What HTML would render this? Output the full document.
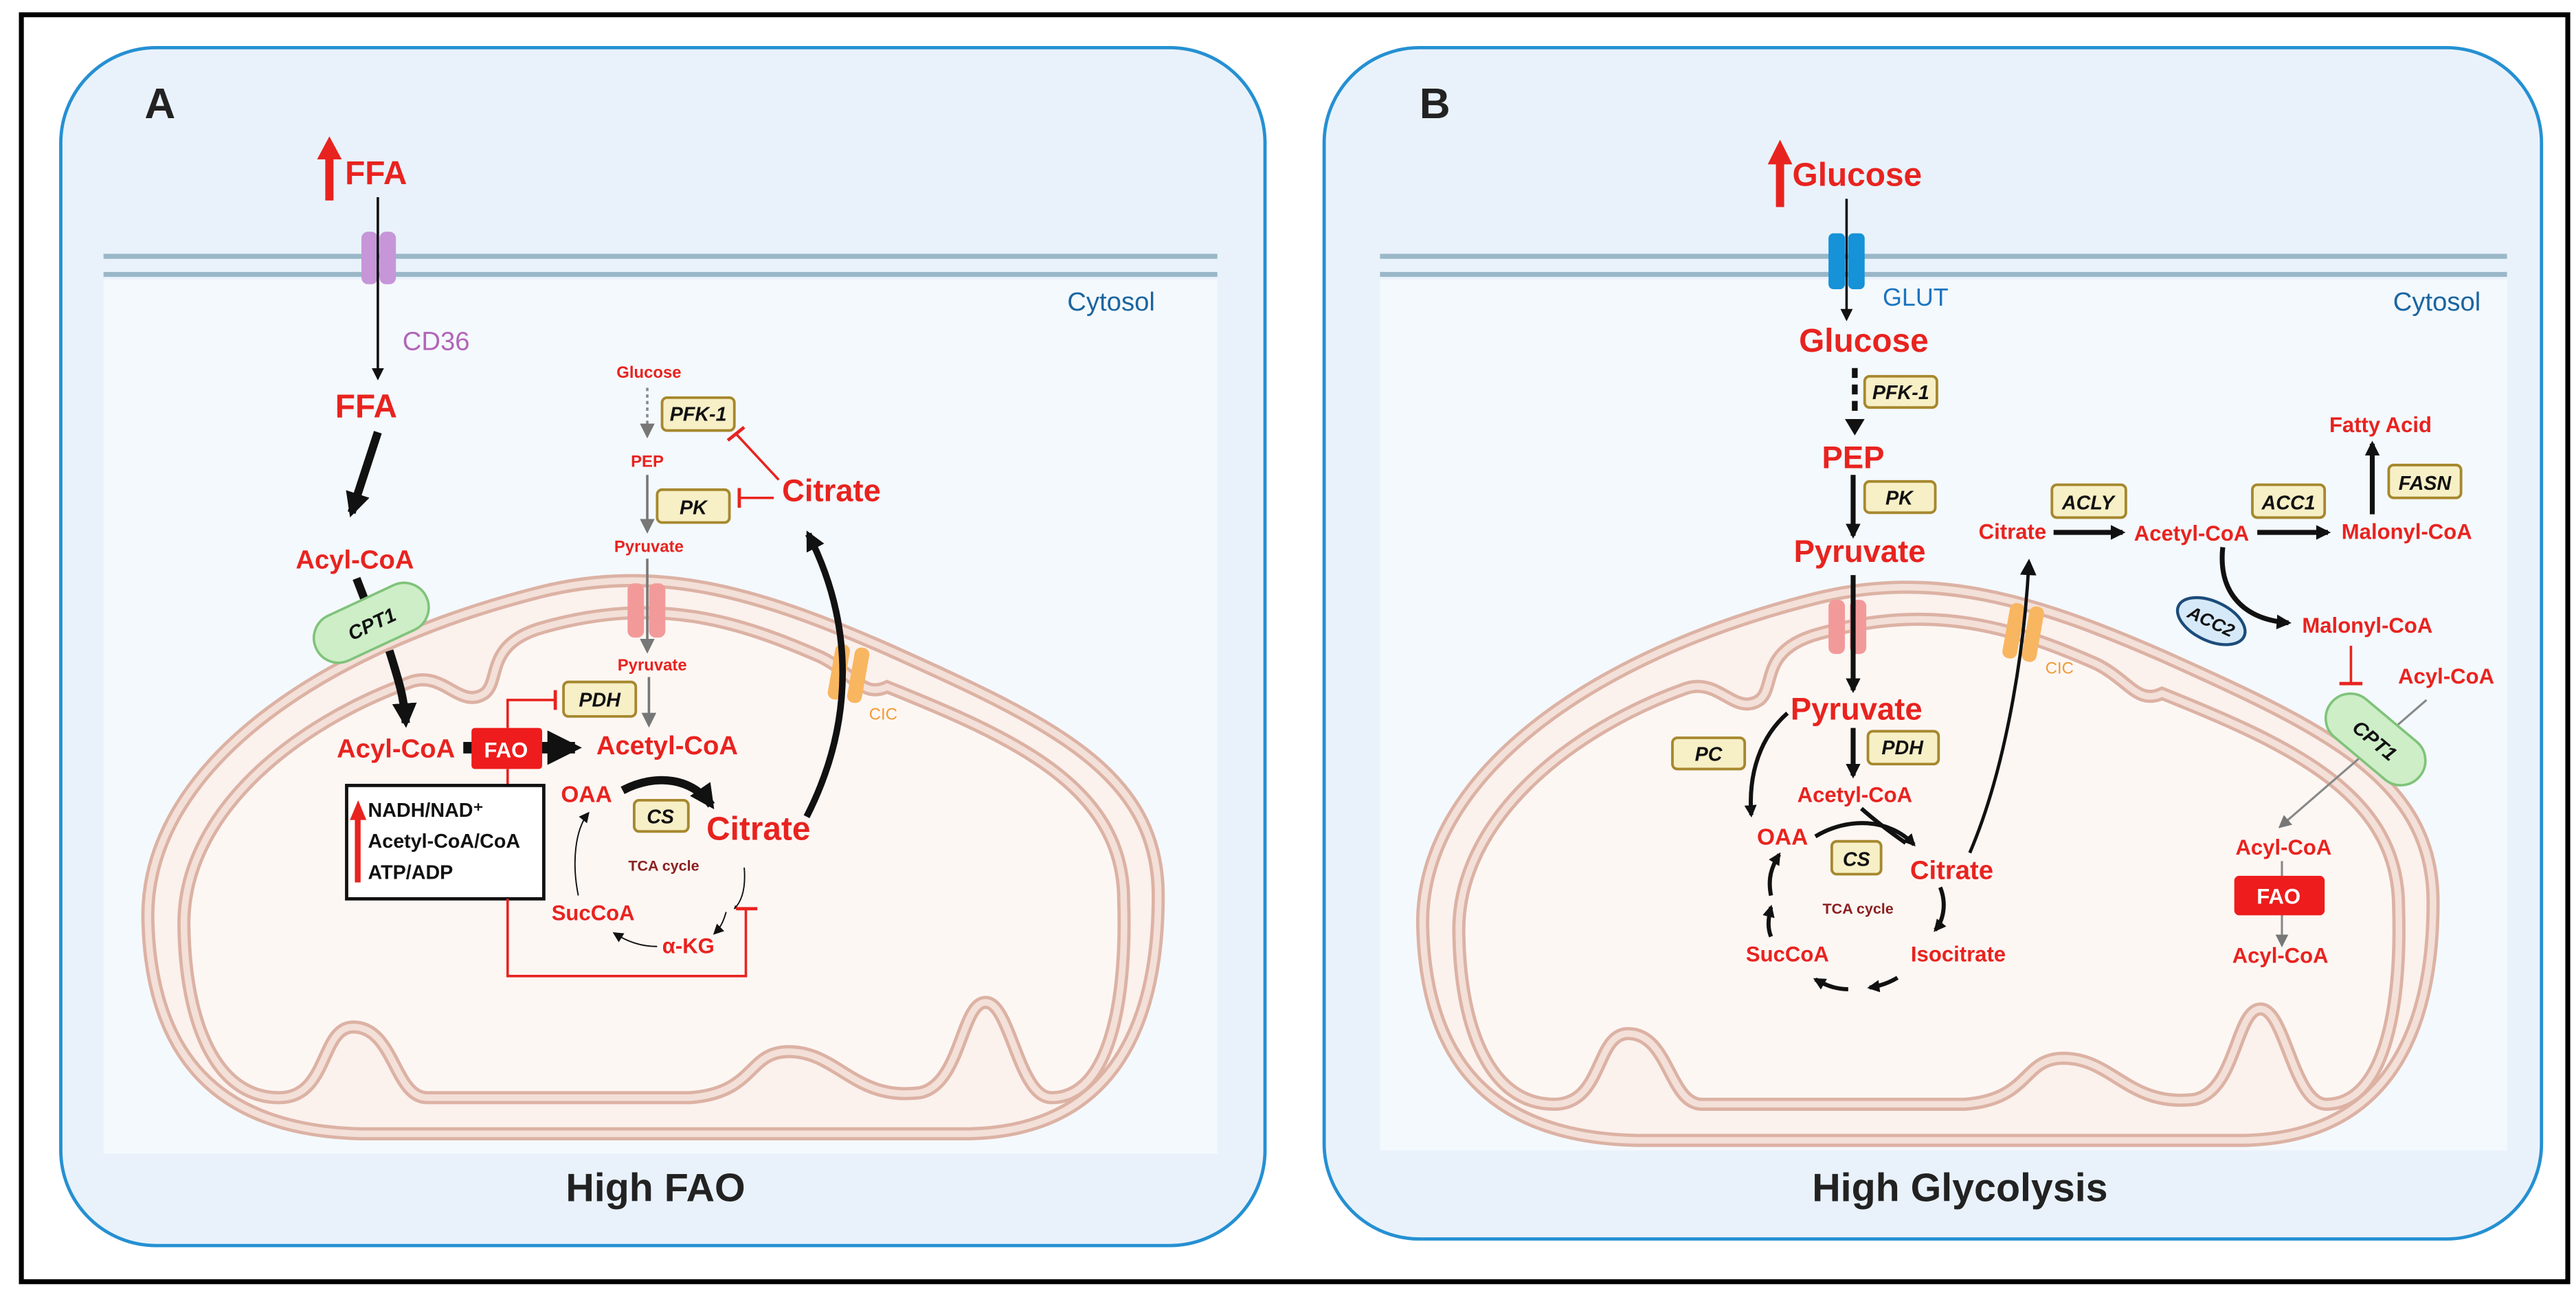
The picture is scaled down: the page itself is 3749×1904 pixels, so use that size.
<!DOCTYPE html>
<html><head><meta charset="utf-8"><style>
html,body{margin:0;padding:0;background:#fff}
svg{display:block}
text{font-family:"Liberation Sans",sans-serif;font-weight:bold}
.r{fill:#e8231f}
.enz{fill:#f7efc6;stroke:#a6882e;stroke-width:1.6}
.et{font-style:italic;font-size:12px;fill:#111;text-anchor:middle}
</style></head><body>
<svg width="3749" height="1904" viewBox="0 0 1568 796" preserveAspectRatio="none" xmlns="http://www.w3.org/2000/svg">
<defs>
<marker id="ab" viewBox="0 0 10 10" refX="8" refY="5" markerWidth="5" markerHeight="5" orient="auto"><path d="M0,0L10,5L0,10Z" fill="#111"/></marker>
<marker id="abs" viewBox="0 0 10 10" refX="8" refY="5" markerWidth="3" markerHeight="3" orient="auto"><path d="M0,0L10,5L0,10Z" fill="#111"/></marker>
<marker id="at" viewBox="0 0 10 10" refX="8" refY="5" markerWidth="8" markerHeight="8" orient="auto"><path d="M0,0L10,5L0,10Z" fill="#111"/></marker>
<marker id="ag" viewBox="0 0 10 10" refX="8" refY="5" markerWidth="6" markerHeight="6" orient="auto"><path d="M0,0L10,5L0,10Z" fill="#777"/></marker>
<g id="mito">
<path id="outer" d="M90,560 C88,470 190,395 330,360 C400,343 460,360 540,395 C640,440 705,470 705,545 C705,620 680,688 590,690 L220,690 C130,688 92,640 90,560 Z" fill="#fbf1ed" stroke="#dcb2a4" stroke-width="8"/>
<path d="M90,560 C88,470 190,395 330,360 C400,343 460,360 540,395 C640,440 705,470 705,545 C705,620 680,688 590,690 L220,690 C130,688 92,640 90,560 Z" fill="none" stroke="#f3e0d8" stroke-width="4"/>
<path d="M112,565 C110,495 180,440 250,415 C270,408 280,432 295,422 C305,414 295,392 330,382 C400,362 450,378 500,400 C520,410 525,425 540,418 C620,450 684,480 684,548 C686,610 675,668 640,668 C620,668 615,610 600,610 C585,610 585,660 560,665 C520,670 510,640 480,640 C455,640 460,665 420,668 L260,668 C240,668 240,625 215,625 C195,625 200,668 170,668 C130,668 113,620 112,565 Z" fill="#fdf7f4" stroke="#dcb2a4" stroke-width="8"/>
<path d="M112,565 C110,495 180,440 250,415 C270,408 280,432 295,422 C305,414 295,392 330,382 C400,362 450,378 500,400 C520,410 525,425 540,418 C620,450 684,480 684,548 C686,610 675,668 640,668 C620,668 615,610 600,610 C585,610 585,660 560,665 C520,670 510,640 480,640 C455,640 460,665 420,668 L260,668 C240,668 240,625 215,625 C195,625 200,668 170,668 C130,668 113,620 112,565 Z" fill="none" stroke="#f3e0d8" stroke-width="4"/>
</g>
</defs>
<rect x="13" y="9" width="1550" height="771" fill="#fff" stroke="#000" stroke-width="3"/>

<!-- Panel A -->
<rect x="37" y="29" width="733" height="729" rx="58" fill="#e9f2fb" stroke="#2590d2" stroke-width="2"/>
<rect x="63" y="170" width="678" height="532" fill="#f4f9fd"/>
<line x1="63" y1="156" x2="741" y2="156" stroke="#9ab7c8" stroke-width="3"/>
<line x1="63" y1="167" x2="741" y2="167" stroke="#9ab7c8" stroke-width="3"/>
<text x="88" y="72" font-size="26" fill="#222">A</text>
<text x="703" y="189" font-size="16" fill="#1b65a0" text-anchor="end" style="font-weight:normal">Cytosol</text>
<use href="#mito"/>
<!-- FFA -->
<rect x="198" y="95" width="5" height="27" fill="#e8231f"/><path d="M193,97 L200.5,83 L208,97Z" fill="#e8231f"/>
<text x="210" y="112" font-size="20" class="r">FFA</text>
<rect x="220" y="141" width="10" height="32" rx="4" fill="#c696d8"/><rect x="231" y="141" width="10" height="32" rx="4" fill="#c696d8"/>
<line x1="230" y1="120" x2="230" y2="230" stroke="#111" stroke-width="1.5" marker-end="url(#ab)"/>
<text x="245" y="213" font-size="16" fill="#b265b8" style="font-weight:normal">CD36</text>
<text x="204" y="254" font-size="20" class="r">FFA</text>
<line x1="230" y1="263" x2="214" y2="312" stroke="#111" stroke-width="5" marker-end="url(#abs)"/>
<text x="180" y="346" font-size="16" class="r">Acyl-CoA</text>
<line x1="217" y1="352" x2="222" y2="365" stroke="#111" stroke-width="5"/>
<g transform="translate(226,379) rotate(-25)"><rect x="-37" y="-15" width="74" height="30" rx="15" fill="#cdeec7" stroke="#7fc37a" stroke-width="1.5"/><text x="0" y="5" font-size="12" text-anchor="middle" fill="#111" font-style="italic">CPT1</text></g>
<path d="M237,396 C243,415 246,425 247,440" fill="none" stroke="#111" stroke-width="5" marker-end="url(#abs)"/>
<text x="205" y="461" font-size="16" class="r">Acyl-CoA</text>
<line x1="282" y1="455" x2="350" y2="455" stroke="#111" stroke-width="7" marker-end="url(#abs)"/>
<rect x="287" y="443" width="43" height="25" rx="2" fill="#ee1c1c"/>
<text x="308" y="461" font-size="13" fill="#fff" text-anchor="middle">FAO</text>
<text x="363" y="459" font-size="16" class="r">Acetyl-CoA</text>
<polyline points="309,443 309,426 338,426" fill="none" stroke="#e8231f" stroke-width="1.5"/><line x1="338" y1="420" x2="338" y2="432" stroke="#e8231f" stroke-width="2"/>
<rect x="343" y="415" width="44" height="21" rx="3" class="enz"/><text x="365" y="430" class="et">PDH</text>
<text x="395" y="230" font-size="10" class="r" text-anchor="middle">Glucose</text>
<line x1="394" y1="236" x2="394" y2="265" stroke="#888" stroke-width="1.5" stroke-dasharray="2,2" marker-end="url(#ag)"/>
<text x="394" y="284" font-size="10" class="r" text-anchor="middle">PEP</text>
<line x1="394" y1="289" x2="394" y2="323" stroke="#777" stroke-width="1.5" marker-end="url(#ag)"/>
<text x="395" y="336" font-size="10" class="r" text-anchor="middle">Pyruvate</text>
<rect x="382" y="355" width="10" height="33" rx="4" fill="#f29a9a"/><rect x="395" y="355" width="10" height="33" rx="4" fill="#f29a9a"/>
<line x1="394" y1="340" x2="394" y2="396" stroke="#777" stroke-width="1.5" marker-end="url(#ag)"/>
<text x="397" y="408" font-size="10" class="r" text-anchor="middle">Pyruvate</text>
<line x1="395" y1="412" x2="395" y2="441" stroke="#777" stroke-width="1.5" marker-end="url(#ag)"/>
<rect x="403" y="242" width="44" height="20" rx="3" class="enz"/><text x="425" y="256" class="et">PFK-1</text>
<rect x="400" y="298" width="44" height="20" rx="3" class="enz"/><text x="422" y="313" class="et">PK</text>
<line x1="474" y1="292" x2="448" y2="264" stroke="#e8231f" stroke-width="1.5"/><line x1="443" y1="268" x2="453" y2="260" stroke="#e8231f" stroke-width="2"/>
<line x1="471" y1="303" x2="450" y2="303" stroke="#e8231f" stroke-width="1.5"/><line x1="450" y1="297" x2="450" y2="309" stroke="#e8231f" stroke-width="2"/>
<text x="476" y="305" font-size="19" class="r">Citrate</text>
<g transform="translate(517,410) rotate(10)"><rect x="-11" y="-17" width="9" height="34" rx="4" fill="#f9b660"/><rect x="1" y="-17" width="9" height="34" rx="4" fill="#f9b660"/></g>
<text x="529" y="438" font-size="10" fill="#f39a35" style="font-weight:normal">CIC</text>
<path d="M491,497 C520,440 520,380 492,325" fill="none" stroke="#111" stroke-width="4" marker-end="url(#abs)"/>
<text x="357" y="488" font-size="14" class="r" text-anchor="middle">OAA</text>
<path d="M379,481 C400,470 422,474 433,490" fill="none" stroke="#111" stroke-width="5" marker-end="url(#abs)"/>
<rect x="386" y="487" width="33" height="19" rx="3" class="enz"/><text x="402" y="501" class="et">CS</text>
<text x="430" y="511" font-size="20" class="r">Citrate</text>
<text x="404" y="530" font-size="9" fill="#8a2020" text-anchor="middle">TCA cycle</text>
<text x="361" y="560" font-size="13" class="r" text-anchor="middle">SucCoA</text>
<text x="419" y="580" font-size="13" class="r" text-anchor="middle">α-KG</text>
<path d="M453,528 C454,540 452,548 447,553" fill="none" stroke="#111" stroke-width="0.8" marker-end="url(#abs)"/>
<path d="M442,555 C440,562 438,565 435,568" fill="none" stroke="#111" stroke-width="0.8" marker-end="url(#at)"/>
<path d="M400,576 C390,576 382,573 374,568" fill="none" stroke="#111" stroke-width="0.8" marker-end="url(#at)"/>
<path d="M352,545 C348,525 350,505 358,495" fill="none" stroke="#111" stroke-width="0.8" marker-end="url(#at)"/>
<line x1="309" y1="468" x2="309" y2="478" stroke="#e8231f" stroke-width="1.5"/>
<rect x="211" y="478" width="120" height="69" fill="#fff" stroke="#111" stroke-width="2"/>
<rect x="216" y="496" width="3.5" height="41" fill="#e8231f"/><path d="M213,499 L218,487 L223,499Z" fill="#e8231f"/>
<text x="224" y="497" font-size="12" fill="#111">NADH/NAD⁺</text>
<text x="224" y="516" font-size="12" fill="#111">Acetyl-CoA/CoA</text>
<text x="224" y="535" font-size="12" fill="#111">ATP/ADP</text>
<polyline points="309,547 309,594 454,594 454,553" fill="none" stroke="#e8231f" stroke-width="1.5"/><line x1="448" y1="553" x2="461" y2="553" stroke="#e8231f" stroke-width="2"/>
<text x="399" y="731" font-size="24" fill="#222" text-anchor="middle">High  FAO</text>

<!-- Panel B -->
<rect x="806" y="29" width="741" height="725" rx="58" fill="#e9f2fb" stroke="#2590d2" stroke-width="2"/>
<rect x="840" y="170" width="686" height="530" fill="#f4f9fd"/>
<line x1="840" y1="156" x2="1526" y2="156" stroke="#9ab7c8" stroke-width="3"/>
<line x1="840" y1="167" x2="1526" y2="167" stroke="#9ab7c8" stroke-width="3"/>
<text x="864" y="72" font-size="26" fill="#222">B</text>
<text x="1510" y="189" font-size="16" fill="#1b65a0" text-anchor="end" style="font-weight:normal">Cytosol</text>
<use href="#mito" transform="translate(776,4)"/>
<rect x="1081" y="98" width="5" height="28" fill="#e8231f"/><path d="M1076,100 L1083.5,85 L1091,100Z" fill="#e8231f"/>
<text x="1091" y="113" font-size="20" class="r">Glucose</text>
<rect x="1113" y="142" width="10" height="34" rx="3" fill="#1592d8"/><rect x="1125" y="142" width="10" height="34" rx="3" fill="#1592d8"/>
<line x1="1124" y1="121" x2="1124" y2="194" stroke="#111" stroke-width="1.5" marker-end="url(#ab)"/>
<text x="1146" y="186" font-size="15" fill="#1b74c0" style="font-weight:normal">GLUT</text>
<text x="1095" y="214" font-size="20" class="r">Glucose</text>
<line x1="1129" y1="224" x2="1129" y2="250" stroke="#111" stroke-width="3.5" stroke-dasharray="6,4"/>
<path d="M1123,255 L1135,255 L1129,265Z" fill="#111"/>
<rect x="1135" y="229" width="44" height="19" rx="3" class="enz"/><text x="1157" y="243" class="et">PFK-1</text>
<text x="1128" y="285" font-size="19" class="r" text-anchor="middle">PEP</text>
<line x1="1128" y1="289" x2="1128" y2="326" stroke="#111" stroke-width="3" marker-end="url(#abs)"/>
<rect x="1135" y="293" width="43" height="19" rx="3" class="enz"/><text x="1156" y="307" class="et">PK</text>
<text x="1132" y="342" font-size="19" class="r" text-anchor="middle">Pyruvate</text>
<rect x="1113" y="365" width="10" height="33" rx="4" fill="#f29a9a"/><rect x="1126" y="365" width="10" height="33" rx="4" fill="#f29a9a"/>
<line x1="1128" y1="350" x2="1128" y2="420" stroke="#111" stroke-width="3" marker-end="url(#abs)"/>
<text x="1130" y="438" font-size="19" class="r" text-anchor="middle">Pyruvate</text>
<line x1="1128" y1="443" x2="1128" y2="472" stroke="#111" stroke-width="3" marker-end="url(#abs)"/>
<rect x="1137" y="445" width="43" height="20" rx="3" class="enz"/><text x="1158" y="459" class="et">PDH</text>
<rect x="1018" y="449" width="44" height="19" rx="3" class="enz"/><text x="1040" y="463" class="et">PC</text>
<path d="M1088,434 C1072,448 1064,470 1066,496" fill="none" stroke="#111" stroke-width="2.5" marker-end="url(#abs)"/>
<text x="1129" y="488" font-size="13" class="r" text-anchor="middle">Acetyl-CoA</text>
<text x="1085" y="514" font-size="14" class="r" text-anchor="middle">OAA</text>
<path d="M1105,509 C1125,497 1150,498 1165,514" fill="none" stroke="#111" stroke-width="2.5" marker-end="url(#abs)"/>
<path d="M1133,492 C1142,500 1150,506 1160,513" fill="none" stroke="#111" stroke-width="2.5"/>
<rect x="1115" y="512" width="30" height="20" rx="3" class="enz"/><text x="1130" y="527" class="et">CS</text>
<text x="1188" y="535" font-size="16" class="r" text-anchor="middle">Citrate</text>
<text x="1131" y="556" font-size="9" fill="#8a2020" text-anchor="middle">TCA cycle</text>
<text x="1088" y="585" font-size="13" class="r" text-anchor="middle">SucCoA</text>
<text x="1192" y="585" font-size="13" class="r" text-anchor="middle">Isocitrate</text>
<path d="M1181,540 C1185,550 1183,560 1178,566" fill="none" stroke="#111" stroke-width="2.5" marker-end="url(#abs)"/>
<path d="M1155,595 C1150,598 1145,600 1138,601" fill="none" stroke="#111" stroke-width="2.5" marker-end="url(#abs)"/>
<path d="M1125,602 C1118,602 1112,600 1105,596" fill="none" stroke="#111" stroke-width="2.5" marker-end="url(#abs)"/>
<path d="M1078,570 C1076,565 1076,560 1078,552" fill="none" stroke="#111" stroke-width="2.5" marker-end="url(#abs)"/>
<path d="M1078,545 C1076,535 1078,528 1083,520" fill="none" stroke="#111" stroke-width="2.5" marker-end="url(#abs)"/>
<g transform="translate(1232,385) rotate(10)"><rect x="-11" y="-17" width="9" height="34" rx="4" fill="#f9b660"/><rect x="1" y="-17" width="9" height="34" rx="4" fill="#f9b660"/></g>
<text x="1245" y="410" font-size="10" fill="#f39a35" style="font-weight:normal">CIC</text>
<path d="M1199,519 C1220,470 1232,400 1235,342" fill="none" stroke="#111" stroke-width="2" marker-end="url(#ab)"/>
<text x="1225" y="328" font-size="13" class="r" text-anchor="middle">Citrate</text>
<line x1="1250" y1="324" x2="1292" y2="324" stroke="#111" stroke-width="3" marker-end="url(#abs)"/>
<rect x="1249" y="295" width="45" height="20" rx="3" class="enz"/><text x="1271" y="310" class="et">ACLY</text>
<text x="1334" y="329" font-size="13" class="r" text-anchor="middle">Acetyl-CoA</text>
<line x1="1374" y1="324" x2="1417" y2="324" stroke="#111" stroke-width="3" marker-end="url(#abs)"/>
<rect x="1371" y="295" width="44" height="20" rx="3" class="enz"/><text x="1393" y="310" class="et">ACC1</text>
<text x="1465" y="328" font-size="13" class="r" text-anchor="middle">Malonyl-CoA</text>
<line x1="1444" y1="313" x2="1444" y2="270" stroke="#111" stroke-width="3" marker-end="url(#abs)"/>
<text x="1449" y="263" font-size="13" class="r" text-anchor="middle">Fatty Acid</text>
<rect x="1454" y="283" width="44" height="20" rx="3" class="enz"/><text x="1476" y="298" class="et">FASN</text>
<path d="M1353,333 C1350,360 1365,377 1393,379" fill="none" stroke="#111" stroke-width="3" marker-end="url(#abs)"/>
<g transform="translate(1346,378) rotate(25)"><ellipse cx="0" cy="0" rx="22" ry="12" fill="#d6e9f8" stroke="#1b4c7a" stroke-width="1.8"/><text x="0" y="4" font-size="11" text-anchor="middle" fill="#111" font-style="italic">ACC2</text></g>
<text x="1441" y="385" font-size="13" class="r" text-anchor="middle">Malonyl-CoA</text>
<line x1="1431" y1="393" x2="1431" y2="416" stroke="#e8231f" stroke-width="1.5"/><line x1="1424" y1="416" x2="1438" y2="416" stroke="#e8231f" stroke-width="2"/>
<text x="1489" y="416" font-size="13" class="r" text-anchor="middle">Acyl-CoA</text>
<line x1="1477" y1="426" x2="1388" y2="503" stroke="#888" stroke-width="1.3" marker-end="url(#ag)"/>
<g transform="translate(1446,450) rotate(40)"><rect x="-35" y="-15" width="70" height="30" rx="15" fill="#cdeec7" stroke="#7fc37a" stroke-width="1.5"/><text x="0" y="5" font-size="12" text-anchor="middle" fill="#111" font-style="italic">CPT1</text></g>
<text x="1390" y="520" font-size="13" class="r" text-anchor="middle">Acyl-CoA</text>
<line x1="1389" y1="524" x2="1389" y2="575" stroke="#888" stroke-width="1.3" marker-end="url(#ag)"/>
<rect x="1360" y="533" width="55" height="24" rx="3" fill="#ee1c1c"/>
<text x="1387" y="550" font-size="13" fill="#fff" text-anchor="middle">FAO</text>
<text x="1388" y="586" font-size="13" class="r" text-anchor="middle">Acyl-CoA</text>
<text x="1193" y="731" font-size="24" fill="#222" text-anchor="middle">High Glycolysis</text>
</svg>
</body></html>
